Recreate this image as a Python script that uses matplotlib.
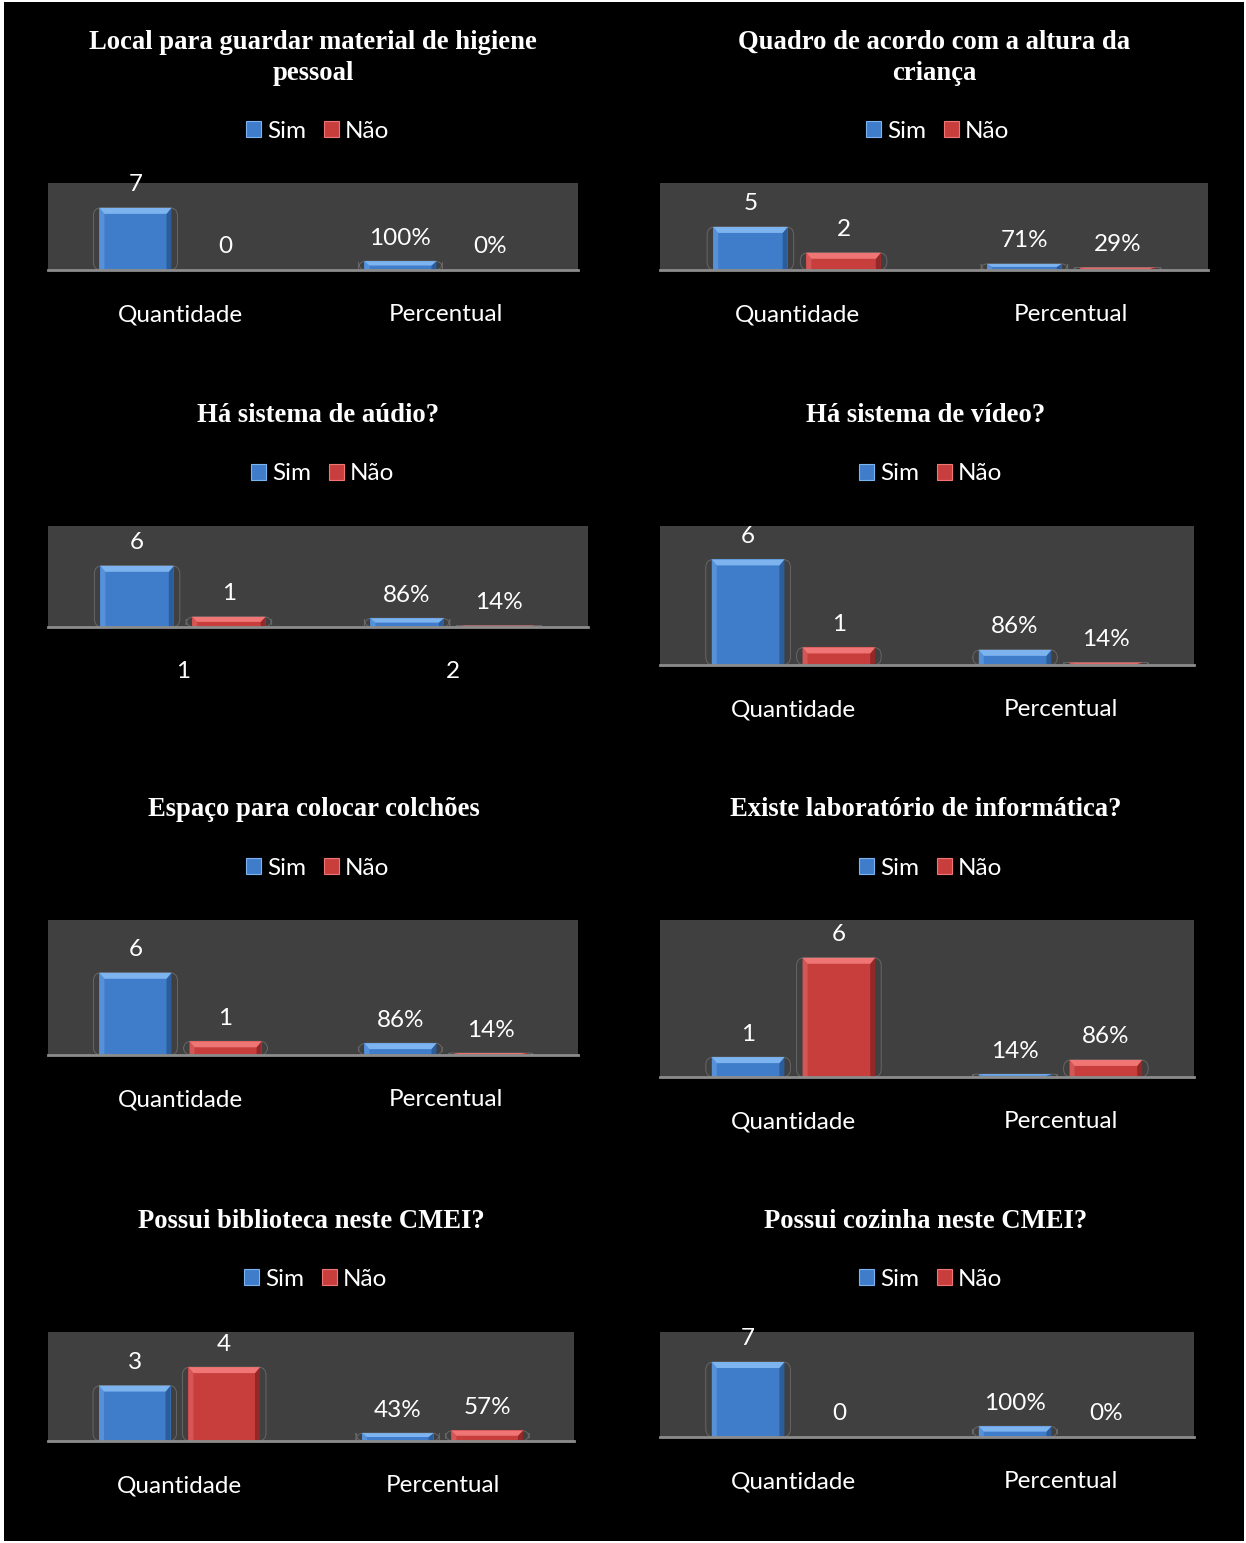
import matplotlib
matplotlib.use("Agg")
import matplotlib.pyplot as plt
from matplotlib.patches import Polygon, Rectangle, FancyBboxPatch, Patch

W, H = 1246, 1543

# --- dados das oito perguntas ---------------------------------------------
titles = [
    "Local para guardar material de higiene\npessoal",
    "Quadro de acordo com a altura da\ncriança",
    "Há sistema de aúdio?",
    "Há sistema de vídeo?",
    "Espaço para colocar colchões",
    "Existe laboratório de informática?",
    "Possui biblioteca neste CMEI?",
    "Possui cozinha neste CMEI?",
]
categories = ["Quantidade", "Percentual"]
categories_audio = ["1", "2"]
series = ["Sim", "Não"]
sim_qtd = [7, 5, 6, 6, 6, 1, 3, 7]
nao_qtd = [0, 2, 1, 1, 1, 6, 4, 0]
sim_pct = [1.00, 0.71, 0.86, 0.86, 0.86, 0.14, 0.43, 1.00]
nao_pct = [0.00, 0.29, 0.14, 0.14, 0.14, 0.86, 0.57, 0.00]

# posição de cada gráfico em pixels: área de plotagem (x0, topo, x1, base),
# centro do título, centro da legenda, limite superior do eixo y
PANELS = [
    ((48, 183, 578, 270), (313, 58), (318, 131), 9.8),
    ((660, 183, 1208, 270), (934, 58), (938, 131), 10.1),
    ((48, 526, 588, 627), (318, 416), (323, 474), 9.9),
    ((660, 526, 1194, 665), (926, 416), (931, 474), 7.9),
    ((48, 920, 578, 1055), (314, 810), (318, 868), 9.85),
    ((660, 920, 1194, 1077), (926, 810), (931, 868), 7.9),
    ((48, 1332, 574, 1441), (311, 1222), (316, 1279), 5.9),
    ((660, 1332, 1194, 1437), (926, 1222), (931, 1279), 9.8),
]

SANS = "Lato"
SERIF = "Liberation Serif"
FS = 17.5

# face, topo, lado esquerdo, lado direito
BLUE = ("#3f7dca", "#7db3ef", "#5791da", "#2b5c9c")
RED = ("#c73e3d", "#ef7674", "#d45656", "#922828")

OFFSET = 0.17
WIDTH = 0.272


def fx(x):
    return x / W


def fy(y):
    return 1 - y / H


def bevel(ax, rect, cols, ppx_x, ppx_y):
    x, w, h = rect.get_x(), rect.get_width(), rect.get_height()
    if h <= 0:
        return
    hpx = h / ppx_y
    # contorno cinza arredondado em volta da barra
    r_px = min(8, hpx)
    ox = 6 * ppx_x
    ax.add_patch(FancyBboxPatch((x - ox, 0), w + 2 * ox, h,
                                boxstyle=f"round,pad=0,rounding_size={r_px * ppx_x}",
                                mutation_aspect=ppx_y / ppx_x, fill=False,
                                ec="#666666", lw=0.7, zorder=1))
    bx = min(5 * ppx_x, w / 2)
    by = min(6 * ppx_y, h / 2)
    ax.add_patch(Polygon([(x, 0), (x, h), (x + bx, h - by), (x + bx, 0)],
                         closed=True, fc=cols[2], ec="none", zorder=3))
    ax.add_patch(Polygon([(x + w, 0), (x + w, h), (x + w - bx, h - by), (x + w - bx, 0)],
                         closed=True, fc=cols[3], ec="none", zorder=3))
    ax.add_patch(Polygon([(x, h), (x + w, h), (x + w - bx, h - by), (x + bx, h - by)],
                         closed=True, fc=cols[1], ec="none", zorder=3))


fig = plt.figure(figsize=(W / 100, H / 100), dpi=100, facecolor="white")
fig.patches.append(Rectangle((fx(4), fy(1541)), fx(1240), 1539 / H,
                             transform=fig.transFigure, fc="black", ec="none", zorder=-10))

for i, (plot, tpos, lpos, ymax) in enumerate(PANELS):
    x0, y0, x1, y1 = plot
    ax = fig.add_axes([fx(x0), fy(y1), fx(x1 - x0), (y1 - y0) / H])
    ax.set_facecolor("#404040")
    ax.set_xlim(-0.5, 1.5)
    ax.set_ylim(0, ymax)
    ppx_x = 2.0 / (x1 - x0)
    ppx_y = ymax / (y1 - y0)

    sim_vals = [sim_qtd[i], sim_pct[i]]
    nao_vals = [nao_qtd[i], nao_pct[i]]
    pos = [0, 1]
    b_sim = ax.bar([p - OFFSET for p in pos], sim_vals, WIDTH, color=BLUE[0], zorder=2, label=series[0])
    b_nao = ax.bar([p + OFFSET for p in pos], nao_vals, WIDTH, color=RED[0], zorder=2, label=series[1])

    for cont, cols in ((b_sim, BLUE), (b_nao, RED)):
        for rect in cont:
            bevel(ax, rect, cols, ppx_x, ppx_y)

    for cont, vals in ((b_sim, sim_vals), (b_nao, nao_vals)):
        for k, (rect, v) in enumerate(zip(cont, vals)):
            txt = f"{v:d}" if k == 0 else f"{v:.0%}"
            ax.annotate(txt, (rect.get_x() + rect.get_width() / 2, rect.get_height()),
                        xytext=(0, 16.6), textcoords="offset points",
                        ha="center", va="center", color="white",
                        fontsize=FS, family=SANS, annotation_clip=False)

    labels = categories_audio if i == 2 else categories
    ax.set_xticks(pos, labels)
    ax.tick_params(axis="x", length=0, pad=24.6, labelsize=FS, labelcolor="white")
    for t in ax.get_xticklabels():
        t.set_family(SANS)
    ax.set_yticks([])
    for s in ("top", "left", "right"):
        ax.spines[s].set_visible(False)
    ax.spines["bottom"].set_color("#8c8c8c")
    ax.spines["bottom"].set_linewidth(2)
    ax.spines["bottom"].set_zorder(4)

    fig.text(fx(tpos[0]), fy(tpos[1]), titles[i], ha="center", va="center",
             family=SERIF, fontweight="bold", fontsize=19.2, color="white",
             linespacing=1.35)

    handles = [Patch(fc=BLUE[0], ec=BLUE[1], lw=0.8), Patch(fc=RED[0], ec=RED[1], lw=0.8)]
    fig.legend(handles, series, loc="center", bbox_to_anchor=(fx(lpos[0]), fy(lpos[1])),
               ncol=2, frameon=False, handlelength=0.62, handleheight=0.62,
               handletextpad=0.25, columnspacing=0.72, labelcolor="white",
               prop={"family": SANS, "size": FS})

fig.savefig("out.png", dpi=100, facecolor="white")
